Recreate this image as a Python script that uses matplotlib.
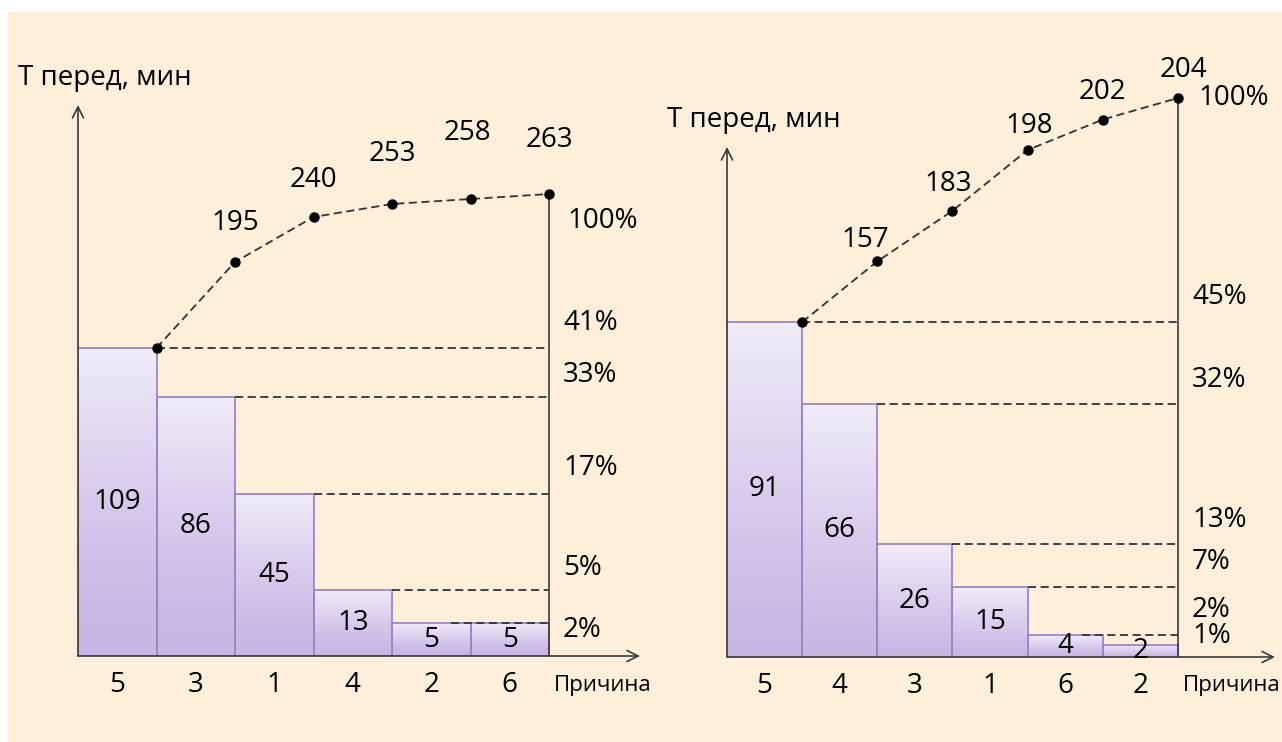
import numpy as np
import matplotlib
matplotlib.use('Agg')
import matplotlib.pyplot as plt
from matplotlib.patches import Rectangle
from matplotlib.colors import LinearSegmentedColormap

plt.rcParams['font.family'] = ['Open Sans', 'DejaVu Sans']

# ------------ Data ---------------
left_causes = ['5', '3', '1', '4', '2', '6']
left_values = [109, 86, 45, 13, 5, 5]
left_cumulative = [109, 195, 240, 253, 258, 263]

right_causes = ['5', '4', '3', '1', '6', '2']
right_values = [91, 66, 26, 15, 4, 2]
right_cumulative = [91, 157, 183, 198, 202, 204]

Y_LABEL = 'Т перед, мин'
X_LABEL = 'Причина'

# ------------ Style ---------------
W, H = 1282, 742
BG = '#fdefd9'
INK = '#000000'
AXIS = '#3a3a3a'
DASH = '#333333'
BAR_EDGE = '#9a86c6'
bar_cmap = LinearSegmentedColormap.from_list('bar', ['#f1ecf9', '#c8b5e4'])
FS = 20
TOP = 60  # top pixel row of the drawing area

# the drawing is schematic: bars and the cumulative curve each get their own scale
left_layout = dict(left=78, base=656, unit=78.5, right=640, ytip=105,
                   power=0.725, bar_px=308,
                   cum_f=(lambda v: v, lambda t: t), cum_a=199, cum_b=1.0,
                   cum_dy=[39, 37, 50, 66, 54], cum_dx=[0, 0, 0, -3, 0],
                   pct_dy=[25, 22, 26, 22, -7, None], full_dy=-27, full_dx=18,
                   last_line_cut=0.25)
K = 210.0
right_layout = dict(left=727, base=657, unit=451 / 6, right=1275, ytip=147,
                    power=0.87, bar_px=335,
                    cum_f=(lambda v: -np.log(K - v), lambda t: K - np.exp(-t)),
                    cum_a=693.4, cum_b=75.0,
                    cum_dy=[21, 27, 24, 28, 28], cum_dx=[-12, -4, 2, 0, 5],
                    pct_dy=[25, 24, 24, 25, 25, 9], full_dy=0, full_dx=20,
                    last_line_cut=0.28)


def px_axes(fig, lay):
    rect = [lay['left'] / W, (H - lay['base']) / H,
            (lay['right'] - lay['left']) / W, (lay['base'] - TOP) / H]
    return fig.add_axes(rect)


def draw_pareto(fig, causes, values, cum, lay):
    n = len(values)
    p = lay['power']
    h_px = lay['base'] - TOP
    xmax = (lay['right'] - lay['left']) / lay['unit']

    ax = px_axes(fig, lay)
    ax.set_yscale('function', functions=(lambda v: np.sign(v) * np.abs(v) ** p,
                                         lambda t: np.sign(t) * np.abs(t) ** (1 / p)))

    # bars with a vertical gradient
    bars = ax.bar(np.arange(n), values, width=1, align='edge', facecolor='none',
                  edgecolor=BAR_EDGE, lw=1.3, zorder=3)
    grad = np.linspace(0, 1, 256).reshape(-1, 1)
    for rect in bars:
        x0 = rect.get_x()
        im = ax.imshow(grad, extent=(x0, x0 + 1, 0, rect.get_height()), aspect='auto',
                       cmap=bar_cmap, origin='upper', zorder=2)
        im.set_clip_path(rect)

    ax.set_xlim(0, xmax)
    ax.set_ylim(0, values[0] * (h_px / lay['bar_px']) ** (1 / p))
    ax.axis('off')

    # dashed level lines
    for i in range(n - 1):
        start = i + 1 - (lay['last_line_cut'] if i == n - 2 else 0)
        ax.hlines(values[i], start, n, colors=DASH, lw=1.3, ls=(0, (4.5, 2.5)), zorder=4)

    # value labels inside the bars
    for i, v in enumerate(values):
        ax.text(i + 0.5, v * 0.5 ** (1 / p), str(v), ha='center', va='center',
                fontsize=FS, color=INK, zorder=6)

    # percent labels
    total = cum[-1]
    for i, v in enumerate(values):
        dy = lay['pct_dy'][i]
        if dy is None:
            continue
        ax.annotate(f'{round(100 * v / total)}%', (n, v), xytext=(14, dy),
                    textcoords='offset pixels', ha='left', va='center',
                    fontsize=FS, color=INK, annotation_clip=False)

    # category labels and axis names
    for i, c in enumerate(causes):
        ax.annotate(c, (i + 0.5, 0), xytext=(0, -29), textcoords='offset pixels',
                    ha='center', va='center', fontsize=FS, color=INK, annotation_clip=False)
    ax.annotate(X_LABEL, (n, 0), xytext=(5, -29), textcoords='offset pixels',
                ha='left', va='center', fontsize=16, color=INK, annotation_clip=False)

    ytip = (lay['base'] - lay['ytip']) / h_px
    ax.annotate(Y_LABEL, (0, ytip), xycoords='axes fraction', xytext=(-60, 27),
                textcoords='offset pixels', ha='left', va='center', fontsize=FS, color=INK)

    # axis arrows
    arrow = dict(arrowstyle='->', color=AXIS, lw=1.2, mutation_scale=20, shrinkA=0, shrinkB=0)
    ax.annotate('', xy=(0, ytip), xytext=(0, 0), xycoords='axes fraction', arrowprops=arrow)
    ax.annotate('', xy=(1, 0), xytext=(0, 0), xycoords='axes fraction', arrowprops=arrow)

    # cumulative curve on its own scale
    ax2 = ax.twinx()
    f, finv = lay['cum_f']
    ax2.set_yscale('function', functions=(f, finv))
    lo = finv((0 - lay['cum_a']) / lay['cum_b'])
    hi = finv((h_px - lay['cum_a']) / lay['cum_b'])
    ax2.set_ylim(lo, hi)
    ax2.set_xlim(0, xmax)
    ax2.axis('off')

    xs = np.arange(1, n + 1)
    ax2.plot([n, n], [lo, cum[-1]], color=AXIS, lw=1.2, zorder=3)
    ax2.plot(xs, cum, color=DASH, lw=1.3, ls=(0, (4.5, 2.5)), marker='o', ms=6.5,
             mfc='black', mec='black', zorder=5)
    for i in range(1, n):
        ax2.annotate(str(cum[i]), (xs[i], cum[i]),
                     xytext=(lay['cum_dx'][i - 1], lay['cum_dy'][i - 1]),
                     textcoords='offset pixels', ha='center', va='center',
                     fontsize=FS, color=INK)
    ax2.annotate('100%', (n, cum[-1]), xytext=(lay['full_dx'], lay['full_dy']),
                 textcoords='offset pixels', ha='left', va='center',
                 fontsize=FS, color=INK, annotation_clip=False)


fig = plt.figure(figsize=(W / 100, H / 100), dpi=100)
fig.patch.set_facecolor('white')
fig.add_artist(Rectangle((8 / W, 0), 1, (H - 12) / H, transform=fig.transFigure,
                         facecolor=BG, edgecolor='none', zorder=-1))

draw_pareto(fig, left_causes, left_values, left_cumulative, left_layout)
draw_pareto(fig, right_causes, right_values, right_cumulative, right_layout)

fig.savefig('out.png', dpi=100, facecolor=fig.get_facecolor())
